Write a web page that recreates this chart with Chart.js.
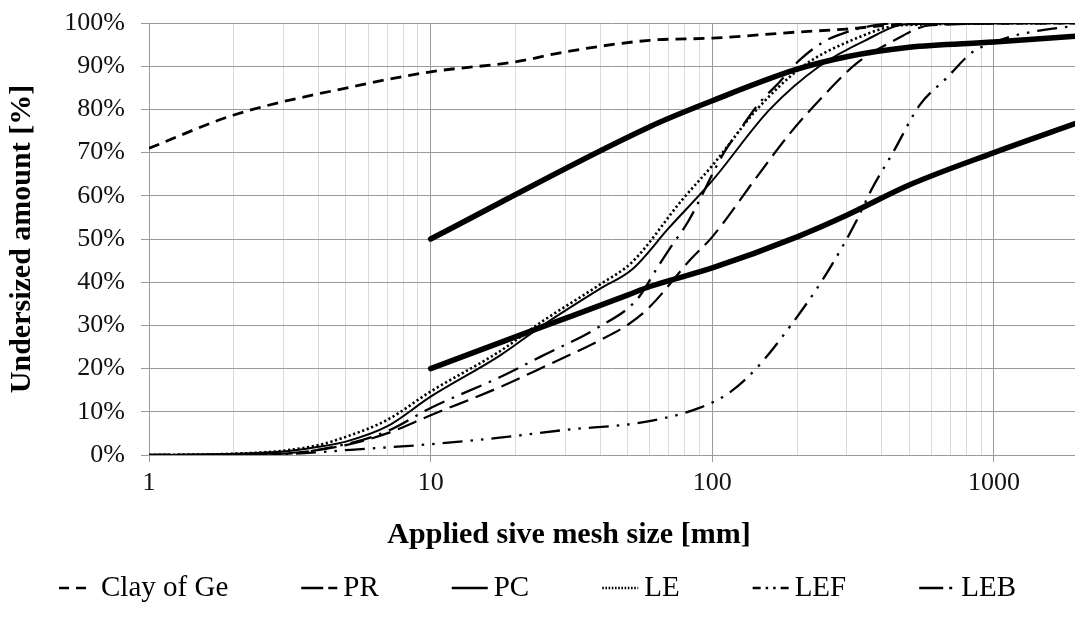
<!DOCTYPE html>
<html>
<head>
<meta charset="utf-8">
<script src="https://cdn.jsdelivr.net/npm/chart.js@4.4.1/dist/chart.umd.min.js"></script>
<style>
  html, body { margin: 0; padding: 0; background: #fff; }
  #wrap { width: 1075px; height: 622px; position: relative; }
</style>
</head>
<body>
<div id="wrap"><canvas id="chart"></canvas></div>
<script>
// ===== Data =====
const xTickLabels = [1, 10, 100, 1000];
const yTickLabels = [0, 10, 20, 30, 40, 50, 60, 70, 80, 90, 100];

const clayX = [1, 2, 5.6, 10, 20, 30, 60, 100, 200, 300, 500, 2000];
const clayY = [71, 78.7, 85.6, 88.7, 91, 93.3, 96, 96.5, 97.9, 98.6, 99.8, 100];

const prX = [1, 3, 5, 7, 10, 17.6, 26, 40, 51, 60, 83, 100, 144, 189, 247, 326, 426, 600, 2000];
const prY = [0, 0.4, 2.3, 5, 9.2, 15.7, 20.8, 26.6, 30.5, 34.3, 45, 50.5, 64.4, 74.5, 83, 90.7, 95.4, 99.5, 100];

const pcX = [1, 2, 3, 4, 5, 7, 10, 17.6, 25, 40, 52, 70, 100, 160, 240, 350, 490, 2000];
const pcY = [0, 0.3, 0.8, 1.9, 3.1, 6.6, 13.5, 23, 30, 38.5, 43, 52.5, 63.5, 80, 90, 96, 99.7, 100];

const leX = [1, 2, 3, 4, 5, 7, 10, 17.6, 25, 40, 52, 78, 100, 144, 210, 300, 475, 2000];
const leY = [0, 0.3, 1, 2.3, 4.2, 8.1, 14.7, 24, 31, 39.5, 44.7, 59, 67, 80, 90, 95.5, 99.5, 100];

const lefX = [1, 3, 5.2, 10, 17.6, 30, 57, 90, 116, 145, 190, 245, 292, 326, 370, 438, 545, 680, 840, 1000, 1200, 2000];
const lefY = [0, 0.2, 1.2, 2.5, 4, 5.8, 7.6, 10.9, 14.6, 20.4, 30, 40.3, 48.6, 54.4, 61.8, 70, 81, 87.3, 93.3, 95.5, 97.2, 99.5];

const lebX = [1, 3, 5, 7, 10, 17.6, 25, 39, 54, 64, 71, 82, 110, 125, 147, 173, 204, 248, 300, 380, 500, 2000];
const lebY = [0, 0.3, 2.5, 5.5, 10.9, 18, 23, 29.4, 36, 43.5, 48, 54, 70, 75.2, 81.5, 86.3, 91.4, 95.6, 97.9, 99.5, 100, 100];

// the two thick boundary curves (not in the legend)
const upperX = [10, 60, 100, 200, 300, 500, 1000, 2000];
const upperY = [50, 76, 82, 89.3, 92.2, 94.4, 95.6, 97];
const lowerX = [10, 25, 50, 60, 100, 200, 300, 500, 1000, 2000];
const lowerY = [20, 29.7, 37, 39, 43.3, 50.5, 55.5, 62.5, 70, 77];

const xTitle = "Applied sive mesh size [mm]";
const yTitle = "Undersized amount [%]";

// ===== Helpers =====
function pts(xs, ys) {
  return xs.map((x, i) => ({ x: x, y: ys[i] }));
}

function series(label, xs, ys, dash, width, legendDash, cap) {
  return {
    label: label,
    data: pts(xs, ys),
    borderColor: "#000",
    backgroundColor: "#000",
    borderWidth: width,
    borderDash: dash,
    borderCapStyle: cap || "butt",
    pointRadius: 0,
    pointHoverRadius: 0,
    fill: false,
    cubicInterpolationMode: "monotone",
    legendDash: legendDash // null = not shown in legend
  };
}

// minor grid values: 1..9 in every decade
const xGridValues = [];
xTickLabels.forEach(d => {
  for (let m = 1; m <= 9; m++) xGridValues.push(m * d);
});
const isDecade = v => xTickLabels.includes(v);

// ===== Custom x title + legend =====
const bottomText = {
  id: "bottomText",
  afterDraw(chart) {
    const ctx = chart.ctx;
    const area = chart.chartArea;
    ctx.save();
    ctx.fillStyle = "#000";
    ctx.textBaseline = "middle";

    ctx.font = 'bold 30px "Liberation Serif"';
    ctx.textAlign = "center";
    ctx.fillText(xTitle, area.left + 420, 535);

    // legend
    ctx.font = '29px "Liberation Serif"';
    ctx.textAlign = "left";
    const sets = chart.data.datasets.filter(d => d.legendDash);
    const sampleW = 36, txtGap = 6, itemGap = 73;
    const widths = sets.map(d => sampleW + txtGap + ctx.measureText(d.label).width);
    const total = widths.reduce((a, b) => a + b, 0) + itemGap * (sets.length - 1);
    let x = (chart.width - total) / 2;
    const y = 588;
    sets.forEach((d, i) => {
      ctx.beginPath();
      ctx.setLineDash(d.legendDash);
      ctx.lineCap = d.borderCapStyle;
      ctx.lineWidth = 2.6;
      ctx.strokeStyle = "#000";
      ctx.moveTo(x, y);
      ctx.lineTo(x + sampleW, y);
      ctx.stroke();
      ctx.setLineDash([]);
      ctx.fillText(d.label, x + sampleW + txtGap, y);
      x += widths[i] + itemGap;
    });
    ctx.restore();
  }
};

// ===== Chart =====
const ctx = document.getElementById("chart").getContext("2d");
new Chart(ctx, {
  type: "line",
  data: {
    datasets: [
      series("Upper", upperX, upperY, [], 5.5, null, "round"),
      series("Lower", lowerX, lowerY, [], 5.5, null, "round"),
      series("Clay of Ge", clayX, clayY, [11, 7], 2.8, [10, 7, 10, 100]),
      series("PR", prX, prY, [20, 8], 2.2, [22, 5, 9, 100]),
      series("PC", pcX, pcY, [], 2, [100, 0]),
      series("LE", leX, leY, [2.2, 2.6], 2.6, [1.6, 1.6]),
      series("LEF", lefX, lefY, [20, 8, 2.5, 8, 2.5, 8], 2.3, [8, 5, 2.5, 5, 2.5, 5, 12, 100]),
      series("LEB", lebX, lebY, [22, 8, 2.5, 8], 2.3, [24, 6, 3, 100])
    ]
  },
  options: {
    responsive: true,
    maintainAspectRatio: false,
    animation: false,
    layout: { padding: { top: 23, right: 0, bottom: 0, left: 0 } },
    plugins: {
      legend: { display: false },
      tooltip: { enabled: false }
    },
    scales: {
      x: {
        type: "logarithmic",
        min: 1,
        max: 1940,
        afterBuildTicks: scale => {
          scale.ticks = xGridValues.filter(v => v <= 1940).map(v => ({ value: v }));
        },
        afterFit: scale => { scale.height = 167; },
        ticks: {
          autoSkip: false,
          maxRotation: 0,
          padding: 6,
          color: "#111",
          font: { family: "Liberation Serif", size: 26 },
          callback: v => (isDecade(v) ? String(v) : "")
        },
        grid: {
          color: c => (c.tick && isDecade(c.tick.value) ? "#9a9a9a" : "#dadada"),
          tickColor: c => (c.tick && isDecade(c.tick.value) ? "#9a9a9a" : "rgba(0,0,0,0)"),
          tickLength: 7,
          lineWidth: 1
        },
        border: { color: "#9a9a9a" }
      },
      y: {
        min: 0,
        max: 100,
        afterBuildTicks: scale => {
          scale.ticks = yTickLabels.map(v => ({ value: v }));
        },
        afterFit: scale => {
          scale.width = 149;
          scale.paddingTop = 0;
          scale.paddingBottom = 0;
        },
        ticks: {
          padding: 16,
          color: "#111",
          font: { family: "Liberation Serif", size: 26 },
          callback: v => v + "%"
        },
        grid: { color: "#9a9a9a", tickLength: 8, lineWidth: 1 },
        border: { color: "#9a9a9a" },
        title: {
          display: true,
          text: yTitle,
          color: "#000",
          font: { family: "Liberation Serif", size: 30, weight: "bold" },
          padding: { top: 4, bottom: 0 }
        }
      }
    }
  },
  plugins: [bottomText]
});
</script>
</body>
</html>
